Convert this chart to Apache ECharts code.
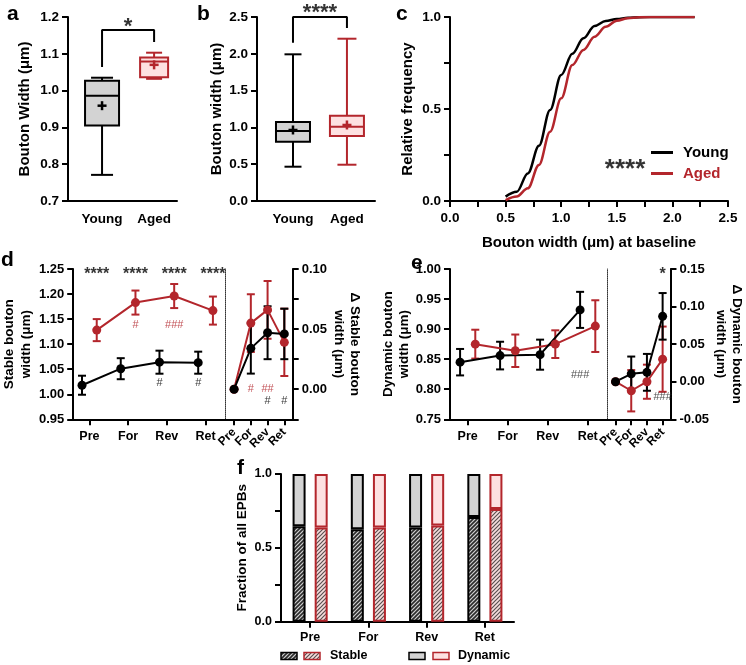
<!DOCTYPE html>
<html>
<head>
<meta charset="utf-8">
<title>Bouton width</title>
<script src="https://cdn.jsdelivr.net/npm/echarts@6.0.0/dist/echarts.min.js"></script>
<style>
html,body{margin:0;padding:0;background:#ffffff;}
#chart{width:746px;height:665px;}
</style>
</head>
<body>
<div id="chart"></div>
<script>
// ================= DATA =================
const groups = ['Young', 'Aged'];
// box statistics: [min, Q1, median, Q3, max, mean]
const aYoungBox = [0.771, 0.905, 0.986, 1.027, 1.035, 0.959];
const aAgedBox  = [1.032, 1.036, 1.079, 1.090, 1.103, 1.070];
const bYoungBox = [0.466, 0.806, 0.951, 1.073, 1.993, 0.965];
const bAgedBox  = [0.493, 0.883, 1.010, 1.159, 2.205, 1.033];
// significance brackets: [left foot, top, right foot]
const aBracket = [1.064, 1.165, 1.132];
const bBracket = [2.15, 2.50, 2.35];
const aSig = '*';
const bSig = '****';

// c: cumulative frequency of bouton width at baseline
const cdfWidth = [0.5, 0.6, 0.7, 0.8, 0.9, 1.0, 1.1, 1.2, 1.3, 1.4, 1.5, 1.6, 1.7, 1.8, 1.9, 2.0, 2.1, 2.2];
const cdfYoung = [0.024, 0.05, 0.15, 0.30, 0.495, 0.685, 0.80, 0.884, 0.951, 0.978, 0.989, 0.996, 0.999, 1.0, 1.0, 1.0, 1.0, 1.0];
const cdfAged  = [0.005, 0.024, 0.069, 0.196, 0.377, 0.558, 0.739, 0.821, 0.893, 0.947, 0.980, 0.993, 0.998, 1.0, 1.0, 1.0, 1.0, 1.0];
const cSig = '****';

// d, e, f sessions
const sessions = ['Pre', 'For', 'Rev', 'Ret'];

// d: stable bouton width (mean, SEM)
const dYoungMean = [1.018, 1.051, 1.064, 1.063];
const dYoungSem  = [0.019, 0.021, 0.023, 0.022];
const dAgedMean  = [1.128, 1.183, 1.196, 1.167];
const dAgedSem   = [0.022, 0.024, 0.024, 0.028];
const dDeltaYoungMean = [0.000, 0.034, 0.047, 0.046];
const dDeltaYoungSem  = [0.000, 0.021, 0.022, 0.021];
const dDeltaAgedMean  = [0.000, 0.055, 0.066, 0.039];
const dDeltaAgedSem   = [0.000, 0.024, 0.024, 0.028];
const dSig            = ['****', '****', '****', '****'];
const dHashAged       = ['', '#', '###', ''];
const dHashYoung      = ['', '', '#', '#'];
const dDeltaHashAged  = ['', '#', '##', ''];
const dDeltaHashYoung = ['', '', '#', '#'];

// e: dynamic bouton width (mean, SEM)
const eYoungMean = [0.845, 0.856, 0.8575, 0.932];
const eYoungSem  = [0.022, 0.023, 0.025, 0.030];
const eAgedMean  = [0.875, 0.864, 0.875, 0.905];
const eAgedSem   = [0.024, 0.027, 0.023, 0.043];
const eDeltaYoungMean = [0.000, 0.0105, 0.0125, 0.087];
const eDeltaYoungSem  = [0.000, 0.023, 0.0245, 0.031];
const eDeltaAgedMean  = [0.000, -0.012, 0.000, 0.030];
const eDeltaAgedSem   = [0.000, 0.0275, 0.0227, 0.0434];
const eHashYoung      = ['', '', '', '###'];
const eDeltaSig       = ['', '', '', '*'];
const eDeltaHashYoung = ['', '', '', '###'];

// f: fraction of all EPBs
const fStableYoung  = [0.647, 0.626, 0.638, 0.709];
const fDynamicYoung = [0.353, 0.374, 0.362, 0.291];
const fStableAged   = [0.638, 0.638, 0.651, 0.763];
const fDynamicAged  = [0.362, 0.362, 0.349, 0.237];

// ================= STYLE / LAYOUT =================
const F = "'Liberation Sans', Arial, Helvetica, sans-serif";
const BLACK = '#000000', RED = '#b3262c', GRAY = '#d3d3d3', PINK = '#fde1e1';
const OFF = 0.19;  // horizontal shift of young / aged groups in d,e main plots
const MAIN = 1;    // main plots: value axis, first session at 1
const CAT = 0;     // delta plots: category axis, first session at index 0

function T(size, color, weight) { return {fontFamily: F, fontSize: size, fontWeight: weight || 'bold', color: color || '#000'}; }
const AXLINE = {show: true, onZero: false, lineStyle: {color: '#000', width: 2}};
const TICK = {show: true, length: 6, lineStyle: {color: '#000', width: 2}};
function mult(v, s) { const r = v / s; return Math.abs(r - Math.round(r)) < 1e-6; }
function fmt(v, d) { return (Math.abs(v) < 1e-9 ? 0 : v).toFixed(d); }

function hatch(bg, fg, lw) {
  const n = 4;
  const c = document.createElement('canvas'); c.width = n; c.height = n;
  const g = c.getContext('2d');
  g.fillStyle = bg; g.fillRect(0, 0, n, n);
  g.strokeStyle = fg; g.lineWidth = lw;
  g.beginPath();
  g.moveTo(-1, n + 1); g.lineTo(n + 1, -1);
  g.moveTo(-1, 1); g.lineTo(1, -1);
  g.moveTo(n - 1, n + 1); g.lineTo(n + 1, n - 1);
  g.stroke();
  return {image: c, repeat: 'repeat'};
}
const HATCH_Y = hatch('#cfcfcf', '#2b2b2b', 1.6);
const HATCH_A = hatch('#f7dede', '#5a5050', 1.2);

function yAxisV(o) {
  return {
    type: 'value', gridIndex: o.grid, position: o.pos || 'left', min: o.min, max: o.max, interval: o.step,
    axisLine: AXLINE, axisTick: TICK, splitLine: {show: false},
    axisLabel: Object.assign({margin: o.margin || 9, showMinLabel: true, showMaxLabel: true,
      formatter: v => mult(v, o.labelStep || o.step) ? fmt(v, o.digits) : ''}, T(o.fs || 13.5)),
    name: o.name || '', nameLocation: 'middle', nameGap: o.gap || 30,
    nameRotate: o.rot,
    nameTextStyle: Object.assign({lineHeight: o.lh || 16}, T(o.nfs || 15))
  };
}
function xAxisCat(o) {
  const pos = o.labels.map((_, i) => i + 1);
  return {
    type: 'value', gridIndex: o.grid, min: o.min, max: o.max,
    axisLine: AXLINE,
    axisTick: Object.assign({}, TICK, {show: o.ticks !== false, customValues: pos}),
    splitLine: {show: false},
    axisLabel: Object.assign({margin: o.margin || 10, customValues: pos,
      showMinLabel: true, showMaxLabel: true,
      formatter: v => o.labels[Math.round(v) - 1] || ''}, T(o.fs || 13.5))
  };
}
function xAxisRot(grid) {
  return {
    type: 'category', gridIndex: grid, data: sessions, boundaryGap: true,
    axisLine: AXLINE, axisTick: Object.assign({}, TICK, {alignWithLabel: true, interval: 0}),
    axisLabel: Object.assign({margin: 11, rotate: 45, interval: 0}, T(12))
  };
}
function dottedAxis(grid) {
  return {type: 'value', gridIndex: grid, position: 'left', min: 0, max: 1,
    axisLine: {show: true, onZero: false, lineStyle: {color: '#333', width: 1, type: 'dotted'}},
    axisTick: {show: false}, axisLabel: {show: false}, splitLine: {show: false}};
}

function boxSeries(xi, yi, pos, stats, w, capW, stroke, fill) {
  return {
    type: 'custom', xAxisIndex: xi, yAxisIndex: yi, silent: true,
    dimensions: ['x', 'min', 'q1', 'median', 'q3', 'max', 'mean'],
    encode: {x: 0, y: [1, 2, 3, 4, 5, 6]},
    data: [[pos].concat(stats)],
    renderItem: (params, api) => {
      const x = api.value(0);
      const c = v => api.coord([x, v]);
      const pMin = c(api.value(1)), pQ1 = c(api.value(2)), pMd = c(api.value(3)),
            pQ3 = c(api.value(4)), pMax = c(api.value(5)), pMean = c(api.value(6));
      const cx = pMin[0];
      const ls = {stroke: stroke, lineWidth: 2, fill: null};
      return {type: 'group', children: [
        {type: 'line', shape: {x1: cx, y1: pMax[1], x2: cx, y2: pQ3[1]}, style: ls},
        {type: 'line', shape: {x1: cx, y1: pQ1[1], x2: cx, y2: pMin[1]}, style: ls},
        {type: 'line', shape: {x1: cx - capW / 2, y1: pMax[1], x2: cx + capW / 2, y2: pMax[1]}, style: ls},
        {type: 'line', shape: {x1: cx - capW / 2, y1: pMin[1], x2: cx + capW / 2, y2: pMin[1]}, style: ls},
        {type: 'rect', shape: {x: cx - w / 2, y: pQ3[1], width: w, height: pQ1[1] - pQ3[1]},
          style: {fill: fill, stroke: stroke, lineWidth: 2}},
        {type: 'line', shape: {x1: cx - w / 2, y1: pMd[1], x2: cx + w / 2, y2: pMd[1]}, style: ls},
        {type: 'line', shape: {x1: cx - 4.5, y1: pMean[1], x2: cx + 4.5, y2: pMean[1]}, style: {stroke: stroke, lineWidth: 2.5}},
        {type: 'line', shape: {x1: cx, y1: pMean[1] - 4.5, x2: cx, y2: pMean[1] + 4.5}, style: {stroke: stroke, lineWidth: 2.5}}
      ]};
    }
  };
}
function bracketSeries(xi, yi, br) {
  return {type: 'line', xAxisIndex: xi, yAxisIndex: yi, silent: true, clip: false, symbol: 'none',
    lineStyle: {color: '#000', width: 2}, data: [[1, br[0]], [1, br[1]], [2, br[1]], [2, br[2]]]};
}
function annSeries(xi, yi, pts, size, color, weight) {
  return {type: 'scatter', xAxisIndex: xi, yAxisIndex: yi, silent: true, clip: false,
    symbolSize: 1, itemStyle: {color: 'rgba(0,0,0,0)'}, z: 5,
    data: pts.map(p => ({value: [p[0], p[1]],
      label: Object.assign({show: true, position: 'inside', formatter: p[2]}, T(size, color, weight))}))};
}
function annRow(texts, base, xOff, y) {
  const out = [];
  texts.forEach((t, i) => { if (t) out.push([i + base + xOff, y, t]); });
  return out;
}
function lineSeries(xi, yi, base, xOff, means, color) {
  return {type: 'line', xAxisIndex: xi, yAxisIndex: yi, silent: true, clip: false,
    data: means.map((m, i) => [i + base + xOff, m]),
    symbol: 'circle', symbolSize: 9, itemStyle: {color: color}, lineStyle: {color: color, width: 2}, z: 3};
}
function errSeries(xi, yi, base, xOff, means, sems, color) {
  return {type: 'custom', xAxisIndex: xi, yAxisIndex: yi, silent: true, z: 3,
    dimensions: ['x', 'lo', 'hi'], encode: {x: 0, y: [1, 2]},
    data: means.map((m, i) => [i + base + xOff, m - sems[i], m + sems[i]]),
    renderItem: (params, api) => {
      const x = api.value(0);
      const a = api.coord([x, api.value(2)]), b = api.coord([x, api.value(1)]);
      const st = {stroke: color, lineWidth: 2};
      const cw = 8;
      return {type: 'group', children: [
        {type: 'line', shape: {x1: a[0], y1: a[1], x2: b[0], y2: b[1]}, style: st},
        {type: 'line', shape: {x1: a[0] - cw / 2, y1: a[1], x2: a[0] + cw / 2, y2: a[1]}, style: st},
        {type: 'line', shape: {x1: b[0] - cw / 2, y1: b[1], x2: b[0] + cw / 2, y2: b[1]}, style: st}
      ]};
    }};
}

// ================= OPTION =================
const grids = [
  {left: 68,    top: 17,  width: 109,   height: 184},   // a
  {left: 257,   top: 17,  width: 118,   height: 184},   // b
  {left: 450,   top: 17,  width: 278,   height: 184},   // c
  {left: 68,    top: 269, width: 157.7, height: 150.3}, // d main
  {left: 225.7, top: 269, width: 67,    height: 150.3}, // d delta
  {left: 450,   top: 269, width: 157.7, height: 150.3}, // e main
  {left: 607.7, top: 269, width: 68.3,  height: 150.3}, // e delta
  {left: 281,   top: 474, width: 233,   height: 147.7}  // f
];

const xAxes = [
  xAxisCat({grid: 0, min: 0.346, max: 2.44, labels: groups, ticks: false, margin: 11}),
  xAxisCat({grid: 1, min: 0.333, max: 2.52, labels: groups, ticks: false, margin: 11}),
  {type: 'value', gridIndex: 2, min: 0, max: 2.5, interval: 0.25,
    axisLine: AXLINE, axisTick: TICK, splitLine: {show: false},
    axisLabel: Object.assign({margin: 10, showMinLabel: true, showMaxLabel: true,
      formatter: v => mult(v, 0.5) ? fmt(v, 1) : ''}, T(13.5)),
    name: 'Bouton width (μm) at baseline', nameLocation: 'middle', nameGap: 34, nameTextStyle: T(15)},
  xAxisCat({grid: 3, min: 0.5825, max: 4.52, labels: sessions, fs: 12.5, margin: 11}),
  xAxisRot(4),
  xAxisCat({grid: 5, min: 0.558, max: 4.5, labels: sessions, fs: 12.5, margin: 11}),
  xAxisRot(6),
  {type: 'category', gridIndex: 7, data: sessions,
    axisLine: AXLINE, axisTick: Object.assign({}, TICK, {alignWithLabel: true}),
    axisLabel: Object.assign({margin: 9}, T(12.5))}
];

const yAxes = [
  yAxisV({grid: 0, min: 0.7, max: 1.2, step: 0.1, digits: 1, name: 'Bouton Width (μm)', gap: 35}),
  yAxisV({grid: 1, min: 0, max: 2.5, step: 0.5, digits: 1, name: 'Bouton width (μm)', gap: 24}),
  yAxisV({grid: 2, min: 0, max: 1, step: 0.25, labelStep: 0.5, digits: 1, name: 'Relative frequency', gap: 34}),
  yAxisV({grid: 3, min: 0.95, max: 1.25, step: 0.05, digits: 2, fs: 13, nfs: 13.5, lh: 17, name: 'Stable bouton\nwidth (μm)', gap: 33}),
  yAxisV({grid: 4, pos: 'right', min: -0.025, max: 0.10, step: 0.025, labelStep: 0.05, digits: 2, fs: 13, nfs: 13.5,
    name: 'Δ Stable bouton\nwidth (μm)', gap: 38, rot: -90}),
  dottedAxis(4),
  yAxisV({grid: 5, min: 0.75, max: 1.0, step: 0.05, digits: 2, fs: 13, nfs: 13.5, name: 'Dynamic bouton\nwidth (μm)', gap: 34}),
  yAxisV({grid: 6, pos: 'right', min: -0.05, max: 0.15, step: 0.05, digits: 2, fs: 13, nfs: 13.5,
    name: 'Δ Dynamic bouton\nwidth (μm)', gap: 32, rot: -90}),
  dottedAxis(6),
  yAxisV({grid: 7, min: 0, max: 1, step: 0.25, labelStep: 0.5, digits: 1, fs: 12.5, nfs: 13.5, name: 'Fraction of all EPBs', gap: 28})
];

const series = [
  // a
  boxSeries(0, 0, 1, aYoungBox, 34, 22, BLACK, GRAY),
  boxSeries(0, 0, 2, aAgedBox, 28, 16, RED, PINK),
  bracketSeries(0, 0, aBracket),
  annSeries(0, 0, [[1.5, 1.173, aSig]], 22, '#000', 'bold'),
  // b
  boxSeries(1, 1, 1, bYoungBox, 34, 17, BLACK, GRAY),
  boxSeries(1, 1, 2, bAgedBox, 34, 19, RED, PINK),
  bracketSeries(1, 1, bBracket),
  annSeries(1, 1, [[1.5, 2.553, bSig]], 22, '#000', 'bold'),
  // c
  {type: 'line', name: 'Young', xAxisIndex: 2, yAxisIndex: 2, silent: true, showSymbol: false, symbol: 'none',
    smooth: 0.35, smoothMonotone: 'x', lineStyle: {color: BLACK, width: 2.5}, itemStyle: {color: BLACK},
    data: cdfWidth.map((w, i) => [w, cdfYoung[i]])},
  {type: 'line', name: 'Aged', xAxisIndex: 2, yAxisIndex: 2, silent: true, showSymbol: false, symbol: 'none',
    smooth: 0.35, smoothMonotone: 'x', lineStyle: {color: RED, width: 2.5}, itemStyle: {color: RED},
    data: cdfWidth.map((w, i) => [w, cdfAged[i]])},
  annSeries(2, 2, [[1.574, 0.17, cSig]], 26, '#000', 'bold'),
  // d main
  errSeries(3, 3, MAIN, OFF, dAgedMean, dAgedSem, RED),
  lineSeries(3, 3, MAIN, OFF, dAgedMean, RED),
  errSeries(3, 3, MAIN, -OFF, dYoungMean, dYoungSem, BLACK),
  lineSeries(3, 3, MAIN, -OFF, dYoungMean, BLACK),
  annSeries(3, 3, annRow(dSig, MAIN, OFF, 1.2386), 16, '#000', 'bold'),
  annSeries(3, 3, annRow(dHashAged, MAIN, OFF, 1.138), 11, RED, 'normal'),
  annSeries(3, 3, annRow(dHashYoung, MAIN, -OFF, 1.022), 11, '#000', 'normal'),
  // d delta
  errSeries(4, 4, CAT, 0, dDeltaAgedMean, dDeltaAgedSem, RED),
  lineSeries(4, 4, CAT, 0, dDeltaAgedMean, RED),
  errSeries(4, 4, CAT, 0, dDeltaYoungMean, dDeltaYoungSem, BLACK),
  lineSeries(4, 4, CAT, 0, dDeltaYoungMean, BLACK),
  annSeries(4, 4, annRow(dDeltaHashAged, CAT, 0, 0.0), 11, RED, 'normal'),
  annSeries(4, 4, annRow(dDeltaHashYoung, CAT, 0, -0.010), 11, '#000', 'normal'),
  // e main
  errSeries(5, 6, MAIN, OFF, eAgedMean, eAgedSem, RED),
  lineSeries(5, 6, MAIN, OFF, eAgedMean, RED),
  errSeries(5, 6, MAIN, -OFF, eYoungMean, eYoungSem, BLACK),
  lineSeries(5, 6, MAIN, -OFF, eYoungMean, BLACK),
  annSeries(5, 6, annRow(eHashYoung, MAIN, -OFF, 0.8237), 11, '#222', 'normal'),
  // e delta
  errSeries(6, 7, CAT, 0, eDeltaAgedMean, eDeltaAgedSem, RED),
  lineSeries(6, 7, CAT, 0, eDeltaAgedMean, RED),
  errSeries(6, 7, CAT, 0, eDeltaYoungMean, eDeltaYoungSem, BLACK),
  lineSeries(6, 7, CAT, 0, eDeltaYoungMean, BLACK),
  annSeries(6, 7, annRow(eDeltaSig, CAT, 0, 0.142), 16, '#000', 'bold'),
  annSeries(6, 7, annRow(eDeltaHashYoung, CAT, 0, -0.0199), 11, '#222', 'normal'),
  // f
  {type: 'bar', name: 'Stable (young)', xAxisIndex: 7, yAxisIndex: 9, stack: 'young', barWidth: 13, barGap: '70%', silent: true,
    itemStyle: {color: HATCH_Y, borderColor: BLACK, borderWidth: 2}, data: fStableYoung},
  {type: 'bar', name: 'Dynamic (young)', xAxisIndex: 7, yAxisIndex: 9, stack: 'young', barWidth: 13, barGap: '70%', silent: true,
    itemStyle: {color: GRAY, borderColor: BLACK, borderWidth: 2}, data: fDynamicYoung},
  {type: 'bar', name: 'Stable (aged)', xAxisIndex: 7, yAxisIndex: 9, stack: 'aged', barWidth: 13, barGap: '70%', silent: true,
    itemStyle: {color: HATCH_A, borderColor: RED, borderWidth: 2}, data: fStableAged},
  {type: 'bar', name: 'Dynamic (aged)', xAxisIndex: 7, yAxisIndex: 9, stack: 'aged', barWidth: 13, barGap: '70%', silent: true,
    itemStyle: {color: PINK, borderColor: RED, borderWidth: 2}, data: fDynamicAged}
];

function letter(t, x, y) {
  return {type: 'text', left: x, top: y, silent: true,
    style: {text: t, fontFamily: F, fontSize: 21, fontWeight: 'bold', fill: '#000'}};
}
function legendBox(x, fill, stroke) {
  return {type: 'rect', silent: true, shape: {x: x, y: 652.5, width: 16, height: 7},
    style: {fill: fill, stroke: stroke, lineWidth: 1.5}};
}
function legendText(t, x) {
  return {type: 'text', silent: true, x: x, y: 656,
    style: {text: t, fontFamily: F, fontSize: 12.5, fontWeight: 'bold', fill: '#000', verticalAlign: 'middle'}};
}

const option = {
  animation: false,
  backgroundColor: '#ffffff',
  textStyle: {fontFamily: F},
  grid: grids,
  xAxis: xAxes,
  yAxis: yAxes,
  legend: {
    orient: 'vertical', left: 651, top: 144, padding: 0, itemGap: 4,
    icon: 'rect', itemWidth: 22, itemHeight: 3, selectedMode: false,
    textStyle: Object.assign({lineHeight: 17, padding: [0, 0, 0, 5]}, T(15)),
    data: [{name: 'Young', textStyle: {color: BLACK}}, {name: 'Aged', textStyle: {color: RED}}]
  },
  series: series,
  graphic: [
    letter('a', 7, 4), letter('b', 197, 4), letter('c', 396, 4),
    letter('d', 1, 250), letter('e', 411, 253), letter('f', 237, 458),
    legendBox(281, HATCH_Y, BLACK), legendBox(304, HATCH_A, RED), legendText('Stable', 330),
    legendBox(409, GRAY, BLACK), legendBox(433, PINK, RED), legendText('Dynamic', 458)
  ]
};

const chart = echarts.init(document.getElementById('chart'), null, {renderer: 'canvas', width: 746, height: 665});
chart.setOption(option);
</script>
</body>
</html>
